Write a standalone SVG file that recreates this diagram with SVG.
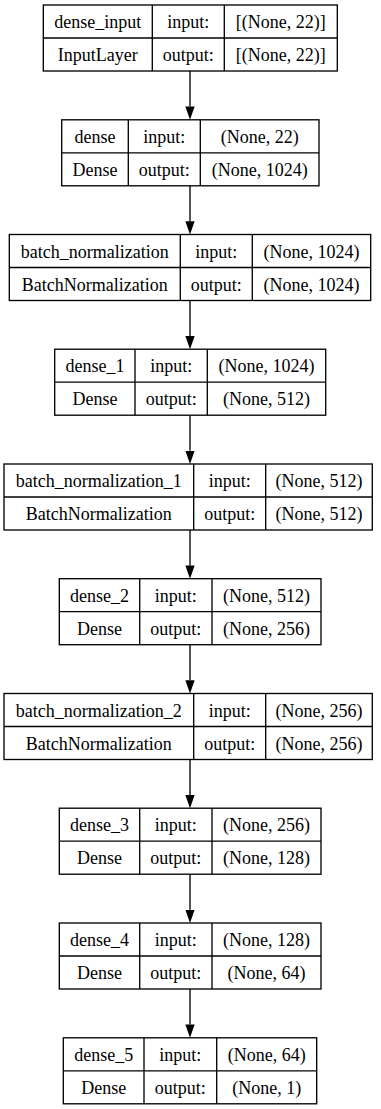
<svg xmlns="http://www.w3.org/2000/svg" width="381" height="1109" viewBox="0 0 381 1109">
  <style>
    .cell { fill: #ffffff; stroke: #000000; stroke-width: 1.33; }
    .sep { stroke: #000000; stroke-width: 1.33; }
    .lbl { font-family: "Liberation Serif", "Times New Roman", serif; font-size: 18px; fill: #000000; text-anchor: middle; }
    .edge { stroke: #000000; stroke-width: 1.33; fill: none; marker-end: url(#arrow); }
  </style>
  <defs>
    <marker id="arrow" viewBox="0 0 10 7" refX="0" refY="3.5" markerWidth="13.3" markerHeight="9.3" markerUnits="userSpaceOnUse" orient="auto">
      <path d="M0,0 L10,3.5 L0,7 z" fill="#000000"/>
    </marker>
  </defs>
  <rect width="381" height="1109" fill="#ffffff"/>

  <!-- connectors: bottom of each layer box to top of the next -->
  <g id="edges">
    <line class="edge" x1="190" y1="71" x2="190" y2="106.5"/>
    <line class="edge" x1="190" y1="185.7" x2="190" y2="221.2"/>
    <line class="edge" x1="190" y1="300.5" x2="190" y2="336"/>
    <line class="edge" x1="190" y1="415.2" x2="190" y2="450.7"/>
    <line class="edge" x1="190" y1="530" x2="190" y2="565.5"/>
    <line class="edge" x1="190" y1="644.7" x2="190" y2="680.2"/>
    <line class="edge" x1="190" y1="759.5" x2="190" y2="795"/>
    <line class="edge" x1="190" y1="874.2" x2="190" y2="909.7"/>
    <line class="edge" x1="190" y1="989" x2="190" y2="1024.5"/>
  </g>

  <!-- dense_input -->
  <g id="dense_input">
    <rect class="cell" x="43.3" y="5" width="294" height="66"/>
    <line class="sep" x1="43.3" y1="38" x2="337.3" y2="38"/>
    <line class="sep" x1="152.3" y1="5" x2="152.3" y2="71"/>
    <line class="sep" x1="224.3" y1="5" x2="224.3" y2="71"/>
    <text class="lbl" x="97.8" y="28">dense_input</text>
    <text class="lbl" x="188.3" y="28">input:</text>
    <text class="lbl" x="280.8" y="28">[(None, 22)]</text>
    <text class="lbl" x="97.8" y="61">InputLayer</text>
    <text class="lbl" x="188.3" y="61">output:</text>
    <text class="lbl" x="280.8" y="61">[(None, 22)]</text>
  </g>

  <!-- dense -->
  <g id="dense">
    <rect class="cell" x="61.7" y="119.8" width="257.3" height="66"/>
    <line class="sep" x1="61.7" y1="152.8" x2="319" y2="152.8"/>
    <line class="sep" x1="128.3" y1="119.8" x2="128.3" y2="185.8"/>
    <line class="sep" x1="200.3" y1="119.8" x2="200.3" y2="185.8"/>
    <text class="lbl" x="95" y="142.8">dense</text>
    <text class="lbl" x="164.3" y="142.8">input:</text>
    <text class="lbl" x="259.7" y="142.8">(None, 22)</text>
    <text class="lbl" x="95" y="175.8">Dense</text>
    <text class="lbl" x="164.3" y="175.8">output:</text>
    <text class="lbl" x="259.7" y="175.8">(None, 1024)</text>
  </g>

  <!-- batch_normalization -->
  <g id="batch_normalization">
    <rect class="cell" x="9.3" y="234.5" width="361.4" height="66"/>
    <line class="sep" x1="9.3" y1="267.5" x2="370.7" y2="267.5"/>
    <line class="sep" x1="180.3" y1="234.5" x2="180.3" y2="300.5"/>
    <line class="sep" x1="252.3" y1="234.5" x2="252.3" y2="300.5"/>
    <text class="lbl" x="94.8" y="257.5">batch_normalization</text>
    <text class="lbl" x="216.3" y="257.5">input:</text>
    <text class="lbl" x="311.5" y="257.5">(None, 1024)</text>
    <text class="lbl" x="94.8" y="290.5">BatchNormalization</text>
    <text class="lbl" x="216.3" y="290.5">output:</text>
    <text class="lbl" x="311.5" y="290.5">(None, 1024)</text>
  </g>

  <!-- dense_1 -->
  <g id="dense_1">
    <rect class="cell" x="54.7" y="349.2" width="271" height="66"/>
    <line class="sep" x1="54.7" y1="382.2" x2="325.7" y2="382.2"/>
    <line class="sep" x1="135" y1="349.2" x2="135" y2="415.2"/>
    <line class="sep" x1="207.3" y1="349.2" x2="207.3" y2="415.2"/>
    <text class="lbl" x="94.9" y="372.2">dense_1</text>
    <text class="lbl" x="171.2" y="372.2">input:</text>
    <text class="lbl" x="266.5" y="372.2">(None, 1024)</text>
    <text class="lbl" x="94.9" y="405.2">Dense</text>
    <text class="lbl" x="171.2" y="405.2">output:</text>
    <text class="lbl" x="266.5" y="405.2">(None, 512)</text>
  </g>

  <!-- batch_normalization_1 -->
  <g id="batch_normalization_1">
    <rect class="cell" x="4" y="464" width="368.3" height="66"/>
    <line class="sep" x1="4" y1="497" x2="372.3" y2="497"/>
    <line class="sep" x1="193.7" y1="464" x2="193.7" y2="530"/>
    <line class="sep" x1="265.7" y1="464" x2="265.7" y2="530"/>
    <text class="lbl" x="98.8" y="487">batch_normalization_1</text>
    <text class="lbl" x="229.7" y="487">input:</text>
    <text class="lbl" x="319" y="487">(None, 512)</text>
    <text class="lbl" x="98.8" y="520">BatchNormalization</text>
    <text class="lbl" x="229.7" y="520">output:</text>
    <text class="lbl" x="319" y="520">(None, 512)</text>
  </g>

  <!-- dense_2 -->
  <g id="dense_2">
    <rect class="cell" x="59.3" y="578.7" width="261.7" height="66"/>
    <line class="sep" x1="59.3" y1="611.7" x2="321" y2="611.7"/>
    <line class="sep" x1="139.7" y1="578.7" x2="139.7" y2="644.7"/>
    <line class="sep" x1="212" y1="578.7" x2="212" y2="644.7"/>
    <text class="lbl" x="99.5" y="601.7">dense_2</text>
    <text class="lbl" x="175.8" y="601.7">input:</text>
    <text class="lbl" x="266.5" y="601.7">(None, 512)</text>
    <text class="lbl" x="99.5" y="634.7">Dense</text>
    <text class="lbl" x="175.8" y="634.7">output:</text>
    <text class="lbl" x="266.5" y="634.7">(None, 256)</text>
  </g>

  <!-- batch_normalization_2 -->
  <g id="batch_normalization_2">
    <rect class="cell" x="4" y="693.5" width="368.3" height="66"/>
    <line class="sep" x1="4" y1="726.5" x2="372.3" y2="726.5"/>
    <line class="sep" x1="193.7" y1="693.5" x2="193.7" y2="759.5"/>
    <line class="sep" x1="265.7" y1="693.5" x2="265.7" y2="759.5"/>
    <text class="lbl" x="98.8" y="716.5">batch_normalization_2</text>
    <text class="lbl" x="229.7" y="716.5">input:</text>
    <text class="lbl" x="319" y="716.5">(None, 256)</text>
    <text class="lbl" x="98.8" y="749.5">BatchNormalization</text>
    <text class="lbl" x="229.7" y="749.5">output:</text>
    <text class="lbl" x="319" y="749.5">(None, 256)</text>
  </g>

  <!-- dense_3 -->
  <g id="dense_3">
    <rect class="cell" x="59.3" y="808.2" width="261.7" height="66"/>
    <line class="sep" x1="59.3" y1="841.2" x2="321" y2="841.2"/>
    <line class="sep" x1="139.7" y1="808.2" x2="139.7" y2="874.2"/>
    <line class="sep" x1="212" y1="808.2" x2="212" y2="874.2"/>
    <text class="lbl" x="99.5" y="831.2">dense_3</text>
    <text class="lbl" x="175.8" y="831.2">input:</text>
    <text class="lbl" x="266.5" y="831.2">(None, 256)</text>
    <text class="lbl" x="99.5" y="864.2">Dense</text>
    <text class="lbl" x="175.8" y="864.2">output:</text>
    <text class="lbl" x="266.5" y="864.2">(None, 128)</text>
  </g>

  <!-- dense_4 -->
  <g id="dense_4">
    <rect class="cell" x="59.3" y="923" width="261.7" height="66"/>
    <line class="sep" x1="59.3" y1="956" x2="321" y2="956"/>
    <line class="sep" x1="139.7" y1="923" x2="139.7" y2="989"/>
    <line class="sep" x1="212" y1="923" x2="212" y2="989"/>
    <text class="lbl" x="99.5" y="946">dense_4</text>
    <text class="lbl" x="175.8" y="946">input:</text>
    <text class="lbl" x="266.5" y="946">(None, 128)</text>
    <text class="lbl" x="99.5" y="979">Dense</text>
    <text class="lbl" x="175.8" y="979">output:</text>
    <text class="lbl" x="266.5" y="979">(None, 64)</text>
  </g>

  <!-- dense_5 -->
  <g id="dense_5">
    <rect class="cell" x="63.3" y="1037.8" width="253.4" height="66"/>
    <line class="sep" x1="63.3" y1="1070.8" x2="316.7" y2="1070.8"/>
    <line class="sep" x1="144" y1="1037.8" x2="144" y2="1103.8"/>
    <line class="sep" x1="216.7" y1="1037.8" x2="216.7" y2="1103.8"/>
    <text class="lbl" x="103.7" y="1060.8">dense_5</text>
    <text class="lbl" x="180.3" y="1060.8">input:</text>
    <text class="lbl" x="266.7" y="1060.8">(None, 64)</text>
    <text class="lbl" x="103.7" y="1093.8">Dense</text>
    <text class="lbl" x="180.3" y="1093.8">output:</text>
    <text class="lbl" x="266.7" y="1093.8">(None, 1)</text>
  </g>
</svg>
